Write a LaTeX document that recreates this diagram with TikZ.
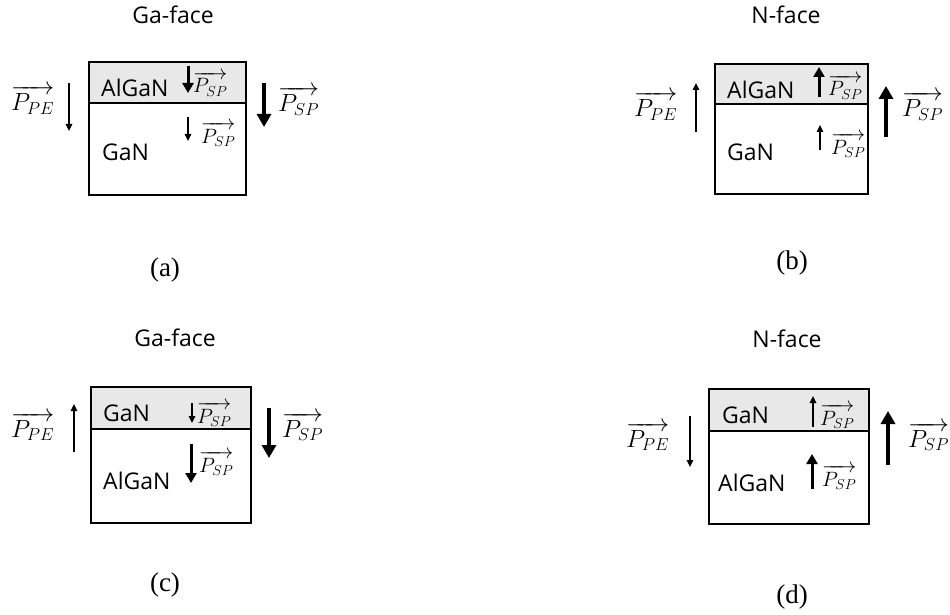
\documentclass[tikz,border=0pt]{standalone}
\usepackage{fontspec}
\setmainfont{Liberation Serif}
\newfontfamily\osans{Open Sans}
\usetikzlibrary{arrows.meta}
\tikzset{
 lay/.style={draw, line width=1.8pt, anchor=north west, inner sep=0, outer sep=0},
 toplay/.style={lay, fill=gray!18},
 mat/.style={font=\osans\fontsize{23}{26}\selectfont, inner sep=0, anchor=west},
 ttl/.style={font=\osans\fontsize{23}{26}\selectfont, inner sep=0},
 capt/.style={font=\fontsize{27}{30}\selectfont, inner sep=0},
 bigv/.style={font=\fontsize{25}{28}\selectfont, inner sep=0, anchor=base west},
 smallv/.style={font=\fontsize{22}{25}\selectfont, inner sep=0, anchor=base west},
 tarr/.style={-{Triangle[length=7pt,width=6.5pt]}, line width=1.1pt},
 karr/.style={-{Triangle[length=13pt,width=14pt]}, line width=4.5pt},
 marr/.style={-{Triangle[length=10pt,width=11pt]}, line width=3pt},
}
\begin{document}
\begin{tikzpicture}[x=1pt,y=-1pt]
\useasboundingbox (0,0) rectangle (950,615);
% ---------------- (a)
\node[ttl] (ta) at (173,15) {Ga-face};
\node[lay, minimum width=157pt, minimum height=92pt] (aB) at (89,103) {};
\node[toplay, minimum width=157pt, minimum height=41pt] (aT) at (89,62) {};
\node[mat] (aT1) at (101,88) {AlGaN};
\node[mat] (aB1) at (102,152) {GaN};
\node[bigv] (aL) at (11,111) {$\overrightarrow{P_{PE}}$};
\node[bigv] (aR) at (278,112) {$\overrightarrow{P_{SP}}$};
\node[smallv] (aTs) at (193,93) {$\overrightarrow{P_{SP}}$};
\node[smallv] (aBs) at (201,143) {$\overrightarrow{P_{SP}}$};
\coordinate (a1s) at (69,83); \coordinate (a1e) at (69,131);
\coordinate (a2s) at (264,83); \coordinate (a2e) at (264,127);
\coordinate (a3s) at (188,66); \coordinate (a3e) at (188,93);
\coordinate (a4s) at (188,117); \coordinate (a4e) at (188,141);
\draw[tarr] (a1s) -- (a1e);
\draw[karr] (a2s) -- (a2e);
\draw[marr] (a3s) -- (a3e);
\draw[tarr] (a4s) -- (a4e);
\node[capt] (ca) at (165,270) {(a)};
% ---------------- (b)
\node[ttl] (tb) at (786,15) {N-face};
\node[lay, minimum width=153pt, minimum height=90pt] (bB) at (715,104) {};
\node[toplay, minimum width=153pt, minimum height=40pt] (bT) at (715,64) {};
\node[mat] (bT1) at (727,90) {AlGaN};
\node[mat] (bB1) at (727,152) {GaN};
\node[bigv] (bL) at (634,117) {$\overrightarrow{P_{PE}}$};
\node[bigv] (bR) at (902,117) {$\overrightarrow{P_{SP}}$};
\node[smallv] (bTs) at (828,96) {$\overrightarrow{P_{SP}}$};
\node[smallv] (bBs) at (831,154) {$\overrightarrow{P_{SP}}$};
\coordinate (b1s) at (696,132); \coordinate (b1e) at (696,83);
\coordinate (b2s) at (886,137); \coordinate (b2e) at (886,86);
\coordinate (b3s) at (819,97); \coordinate (b3e) at (819,67);
\coordinate (b4s) at (820,150); \coordinate (b4e) at (820,125);
\draw[tarr] (b1s) -- (b1e);
\draw[karr] (b2s) -- (b2e);
\draw[marr] (b3s) -- (b3e);
\draw[tarr] (b4s) -- (b4e);
\node[capt] (cb) at (792,263) {(b)};
% ---------------- (c)
\node[ttl] (tc) at (175,338) {Ga-face};
\node[lay, minimum width=160pt, minimum height=94pt] (cB) at (91,429) {};
\node[toplay, minimum width=160pt, minimum height=42pt] (cT) at (91,387) {};
\node[mat] (cT1) at (103,413) {GaN};
\node[mat] (cB1) at (103,481) {AlGaN};
\node[bigv] (cL) at (11,437) {$\overrightarrow{P_{PE}}$};
\node[bigv] (cR) at (282,437) {$\overrightarrow{P_{SP}}$};
\node[smallv] (cTs) at (197,423) {$\overrightarrow{P_{SP}}$};
\node[smallv] (cBs) at (199,472) {$\overrightarrow{P_{SP}}$};
\coordinate (c1s) at (74,452); \coordinate (c1e) at (74,404);
\coordinate (c2s) at (269,408); \coordinate (c2e) at (269,458);
\coordinate (c3s) at (192,403); \coordinate (c3e) at (192,423);
\coordinate (c4s) at (191,444); \coordinate (c4e) at (191,483);
\draw[tarr] (c1s) -- (c1e);
\draw[karr] (c2s) -- (c2e);
\draw[tarr] (c3s) -- (c3e);
\draw[marr] (c4s) -- (c4e);
\node[capt] (cc) at (165,585) {(c)};
% ---------------- (d)
\node[ttl] (td) at (787,339) {N-face};
\node[lay, minimum width=160pt, minimum height=93pt] (dB) at (709,431) {};
\node[toplay, minimum width=160pt, minimum height=42pt] (dT) at (709,389) {};
\node[mat] (dT1) at (722,415) {GaN};
\node[mat] (dB1) at (718,483) {AlGaN};
\node[bigv] (dL) at (626,447) {$\overrightarrow{P_{PE}}$};
\node[bigv] (dR) at (908,447) {$\overrightarrow{P_{SP}}$};
\node[smallv] (dTs) at (820,425) {$\overrightarrow{P_{SP}}$};
\node[smallv] (dBs) at (822,486) {$\overrightarrow{P_{SP}}$};
\coordinate (d1s) at (690,416); \coordinate (d1e) at (690,467);
\coordinate (d2s) at (888,465); \coordinate (d2e) at (888,411);
\coordinate (d3s) at (813,427); \coordinate (d3e) at (813,396);
\coordinate (d4s) at (812,489); \coordinate (d4e) at (812,454);
\draw[tarr] (d1s) -- (d1e);
\draw[karr] (d2s) -- (d2e);
\draw[tarr] (d3s) -- (d3e);
\draw[marr] (d4s) -- (d4e);
\node[capt] (cd) at (792,597) {(d)};
\end{tikzpicture}
\end{document}
